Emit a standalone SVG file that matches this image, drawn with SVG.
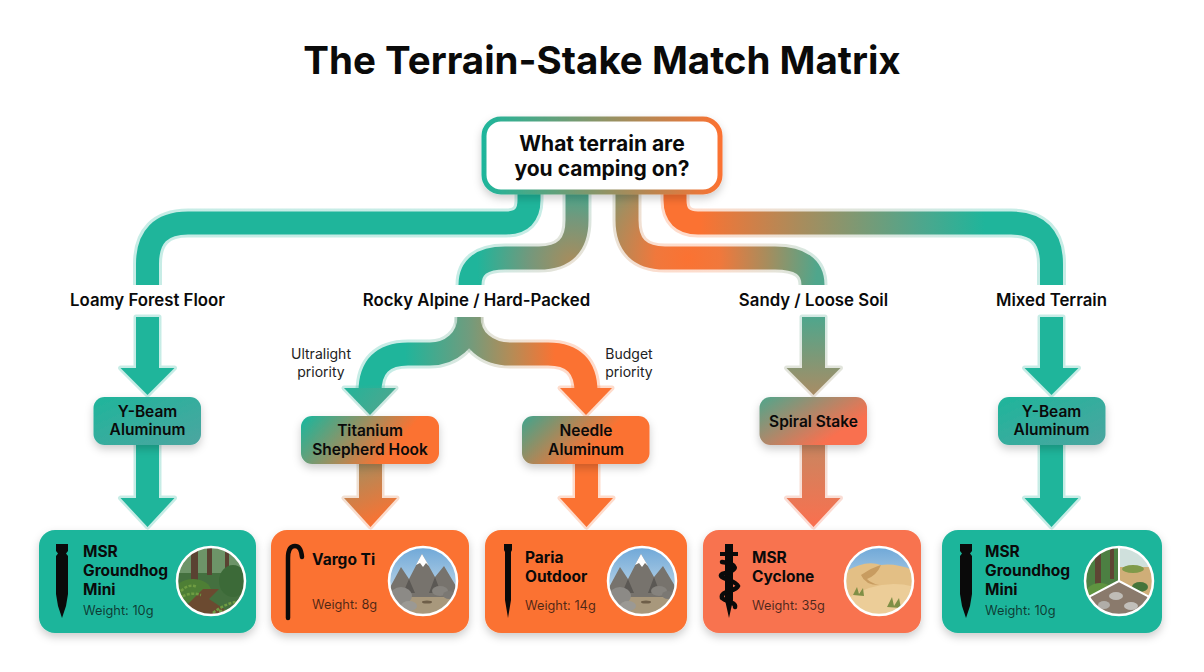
<svg xmlns="http://www.w3.org/2000/svg" width="1204" height="672" viewBox="0 0 1204 672">
<style>
text{font-family:Inter,"Liberation Sans",sans-serif;fill:#0a0a0a}
.title{font-size:38.500px;font-weight:700;text-anchor:middle}
.q{font-size:21px;font-weight:700;text-anchor:middle}
.lbl{font-size:16.800px;font-weight:600;text-anchor:middle}
.pri{font-size:14px;font-weight:400;text-anchor:middle;fill:#222}
.nd{font-size:15.500px;font-weight:600;text-anchor:middle}
.cn{font-size:15.500px;font-weight:700}
.wt{font-size:12.800px;font-weight:400;fill-opacity:.72}
.halo{fill:none;stroke-width:29;stroke-opacity:.25}
.flow{fill:none;stroke-width:23}
.arr{stroke-width:5;stroke-linejoin:round;stroke-opacity:.25;paint-order:stroke}
.ring{fill:none;stroke:#fff;stroke-width:2.500}
.ic{fill:#0a0a0a}
.fern{fill:none;stroke:#6f9c42;stroke-width:2.500;stroke-dasharray:3 1.500}
</style>
<defs>
<filter id="sh" x="-15%" y="-20%" width="130%" height="150%"><feDropShadow dx="0" dy="4" stdDeviation="4" flood-color="#000" flood-opacity=".2"/></filter>
<linearGradient id="gT" gradientUnits="userSpaceOnUse" x1="0" y1="0" x2="1" y2="0"><stop stop-color="#1fb59b"/></linearGradient>
<linearGradient id="gO" gradientUnits="userSpaceOnUse" x1="0" y1="0" x2="1" y2="0"><stop stop-color="#fb7232"/></linearGradient>
<radialGradient id="gRock" gradientUnits="userSpaceOnUse" cx="572" cy="262" r="95"><stop offset="0" stop-color="#a98c5c"/><stop offset=".45" stop-color="#74987c"/><stop offset="1" stop-color="#1fb59b"/></radialGradient>
<radialGradient id="gSand" gradientUnits="userSpaceOnUse" cx="688" cy="258" r="130"><stop offset="0" stop-color="#fb7232"/><stop offset=".25" stop-color="#f0783c"/><stop offset=".6" stop-color="#a98c5c"/><stop offset="1" stop-color="#4fa68c"/></radialGradient>
<linearGradient id="gMix" gradientUnits="userSpaceOnUse" x1="700" y1="0" x2="985" y2="0"><stop offset="0" stop-color="#fb7232"/><stop offset=".35" stop-color="#a98c5c"/><stop offset=".77" stop-color="#4fa68c"/><stop offset="1" stop-color="#1fb59b"/></linearGradient>
<linearGradient id="gSplit" gradientUnits="userSpaceOnUse" x1="405" y1="0" x2="555" y2="0"><stop offset="0" stop-color="#1fb59b"/><stop offset=".42" stop-color="#6f9c7e"/><stop offset=".72" stop-color="#b78b55"/><stop offset="1" stop-color="#fb7232"/></linearGradient>
<linearGradient id="gHeadL" gradientUnits="userSpaceOnUse" x1="345" y1="380" x2="390" y2="420"><stop offset="0" stop-color="#1fb59b"/><stop offset="1" stop-color="#55a48c"/></linearGradient>
<linearGradient id="gTiA" gradientUnits="userSpaceOnUse" x1="360" y1="464" x2="385" y2="520"><stop offset="0" stop-color="#a98c5c"/><stop offset="1" stop-color="#fb7232"/></linearGradient>
<linearGradient id="gSp1" gradientUnits="userSpaceOnUse" x1="0" y1="317" x2="0" y2="395"><stop offset="0" stop-color="#4fa68c"/><stop offset="1" stop-color="#a98c64"/></linearGradient>
<linearGradient id="gSp2" gradientUnits="userSpaceOnUse" x1="0" y1="445" x2="0" y2="525"><stop offset="0" stop-color="#c98660"/><stop offset="1" stop-color="#f9704f"/></linearGradient>
<linearGradient id="gQ" x1="0" y1="0" x2="1" y2="0"><stop offset="0" stop-color="#1fb59b"/><stop offset="1" stop-color="#fb7232"/></linearGradient>
<linearGradient id="gY" x1="0" y1="0" x2="1" y2="1"><stop offset="0" stop-color="#1fb59b"/><stop offset="1" stop-color="#4ca5a0"/></linearGradient>
<linearGradient id="gTi" x1="0" y1="0" x2="1" y2=".3"><stop offset="0" stop-color="#14b8a0"/><stop offset=".8" stop-color="#fb7232"/></linearGradient>
<linearGradient id="gNe" x1="0" y1="0" x2="1" y2=".4"><stop offset="0" stop-color="#3fa58e"/><stop offset=".7" stop-color="#fb7232"/></linearGradient>
<linearGradient id="gSpN" x1="0" y1="0" x2="1" y2=".7"><stop offset="0" stop-color="#4fa68c"/><stop offset=".85" stop-color="#f9704f"/></linearGradient>
<linearGradient id="gSky" x1="0" y1="0" x2="0" y2="1"><stop offset="0" stop-color="#6fa8d8"/><stop offset="1" stop-color="#dfe9ee"/></linearGradient>
<clipPath id="cc"><circle r="34"/></clipPath>
<g id="stake"><path d="M-6 0H6V7L4 9.500 6 12V50L4 62 0 74-4 62-6 50V12L-4 9.500-6 7Z"/></g>
<g id="mtn"><g clip-path="url(#cc)">
<rect x="-34" y="-34" width="68" height="68" fill="url(#gSky)"/>
<rect x="-34" y="8" width="68" height="26" fill="#a8987c"/>
<path d="M-36 12L-22-14-14-2-1-27 12-4 21-15 36 10V16H-36Z" fill="#77736d"/>
<path d="M-1-27L-7-16-3-18 0-14 3-18 6-15Z" fill="#fff"/>
<path d="M-14-2L-8 12H-20ZM12-4L6 12H18Z" fill="#5b5854"/>
<ellipse cx="-22" cy="15" rx="11" ry="9" fill="#8c8a86"/><ellipse cx="-14" cy="25" rx="8" ry="5" fill="#9b9994"/>
<ellipse cx="17" cy="10" rx="8" ry="5" fill="#86837e"/><ellipse cx="26" cy="14" rx="6" ry="4" fill="#7b7873"/><ellipse cx="4" cy="21" rx="5" ry="1.500" fill="#6e5e48"/>
</g><circle class="ring" r="34"/></g>
</defs>

<rect width="1204" height="672" fill="#fff"/>
<text class="title" x="602" y="74">The Terrain-Stake Match Matrix</text>

<g id="connectors">
<path class="halo" stroke="url(#gT)" d="M529 190V200Q529 223 506 223H188Q147.500 223 147.500 264V285"/>
<path class="flow" stroke="url(#gT)" d="M529 190V200Q529 223 506 223H188Q147.500 223 147.500 264V285"/>
<path class="halo" stroke="url(#gRock)" d="M577 190V220Q577 258 539 258H505Q470 258 470 285"/>
<path class="flow" stroke="url(#gRock)" d="M577 190V220Q577 258 539 258H505Q470 258 470 285"/>
<path class="halo" stroke="url(#gSand)" d="M627 190V220Q627 258 665 258H775Q813 258 813 285"/>
<path class="flow" stroke="url(#gSand)" d="M627 190V220Q627 258 665 258H775Q813 258 813 285"/>
<path class="halo" stroke="url(#gMix)" d="M675 190V200Q675 223 698 223H1011Q1051.500 223 1051.500 264V285"/>
<path class="flow" stroke="url(#gMix)" d="M675 190V200Q675 223 698 223H1011Q1051.500 223 1051.500 264V285"/>

<polygon class="arr" fill="url(#gT)" stroke="url(#gT)" points="136,317 159,317 159,368 174.500,368 147.500,395 120.500,368 136,368"/>
<polygon class="arr" fill="url(#gT)" stroke="url(#gT)" points="136,445 159,445 159,498 174.500,498 147.500,527 120.500,498 136,498"/>

<path class="halo" stroke="url(#gSplit)" d="M469 317C469 340 450 354 430 354H408Q370 354 370 392"/>
<path class="halo" stroke="url(#gSplit)" d="M469 317C469 340 488 354 510 354H548Q586 354 586 392"/>
<path class="flow" stroke="url(#gSplit)" d="M469 317C469 340 450 354 430 354H408Q370 354 370 392"/>
<path class="flow" stroke="url(#gSplit)" d="M469 317C469 340 488 354 510 354H548Q586 354 586 392"/>
<polygon class="arr" fill="url(#gHeadL)" stroke="url(#gHeadL)" points="344,388 396,388 370,415"/>
<polygon class="arr" fill="url(#gO)" stroke="url(#gO)" points="560,388 612,388 586,415"/>
<polygon class="arr" fill="url(#gTiA)" stroke="url(#gTiA)" points="359,464 382,464 382,498 397,498 370.500,527 344,498 359,498"/>
<polygon class="arr" fill="url(#gO)" stroke="url(#gO)" points="575,464 598,464 598,498 613,498 586.500,527 560,498 575,498"/>

<polygon class="arr" fill="url(#gSp1)" stroke="url(#gSp1)" points="802,317 825,317 825,368 840.500,368 813.500,395 786.500,368 802,368"/>
<polygon class="arr" fill="url(#gSp2)" stroke="url(#gSp2)" points="802,445 825,445 825,498 840.500,498 813.500,527 786.500,498 802,498"/>
<polygon class="arr" fill="url(#gT)" stroke="url(#gT)" points="1040,317 1063,317 1063,368 1078.500,368 1051.500,395 1024.500,368 1040,368"/>
<polygon class="arr" fill="url(#gT)" stroke="url(#gT)" points="1040,445 1063,445 1063,498 1078.500,498 1051.500,527 1024.500,498 1040,498"/>
</g>

<g id="edge-labels">
<text class="lbl" x="147.500" y="306">Loamy Forest Floor</text>
<text class="lbl" x="476.500" y="306">Rocky Alpine / Hard-Packed</text>
<text class="lbl" x="813.500" y="306">Sandy / Loose Soil</text>
<text class="lbl" x="1051.500" y="306">Mixed Terrain</text>
<text class="pri" x="321" y="359">Ultralight</text><text class="pri" x="321" y="377">priority</text>
<text class="pri" x="629" y="359">Budget</text><text class="pri" x="629" y="377">priority</text>
</g>

<g id="node-question"><rect x="484" y="119" width="236" height="73" rx="17" fill="#fff" stroke="url(#gQ)" stroke-width="5" filter="url(#sh)"/>
<text class="q" x="602" y="151">What terrain are</text><text class="q" x="602" y="176">you camping on?</text></g>

<g id="node-ybeam-1"><rect x="93.500" y="397" width="107.500" height="48" rx="11" fill="url(#gY)" filter="url(#sh)"/>
<text class="nd" x="147.500" y="417">Y-Beam</text><text class="nd" x="147.500" y="435">Aluminum</text></g>
<g id="node-titanium"><rect x="301" y="416" width="138" height="48" rx="11" fill="url(#gTi)" filter="url(#sh)"/>
<text class="nd" x="370" y="436">Titanium</text><text class="nd" x="370" y="455">Shepherd Hook</text></g>
<g id="node-needle"><rect x="522" y="416" width="127.500" height="48" rx="11" fill="url(#gNe)" filter="url(#sh)"/>
<text class="nd" x="586" y="436">Needle</text><text class="nd" x="586" y="455">Aluminum</text></g>
<g id="node-spiral"><rect x="759.500" y="397" width="107.500" height="48" rx="11" fill="url(#gSpN)" filter="url(#sh)"/>
<text class="nd" x="813.500" y="427">Spiral Stake</text></g>
<g id="node-ybeam-2"><rect x="998" y="397" width="107.500" height="48" rx="11" fill="url(#gY)" filter="url(#sh)"/>
<text class="nd" x="1051.500" y="417">Y-Beam</text><text class="nd" x="1051.500" y="435">Aluminum</text></g>

<g id="card-groundhog-1"><rect x="39" y="530" width="217" height="103" rx="16" fill="#1fb59b" filter="url(#sh)"/>
<use href="#stake" class="ic" x="62" y="544"/>
<text class="cn" x="83" y="557">MSR</text><text class="cn" x="83" y="576">Groundhog</text><text class="cn" x="83" y="595">Mini</text><text class="wt" x="83" y="615">Weight: 10g</text>
<g transform="translate(211 581)"><g clip-path="url(#cc)">
<rect x="-34" y="-34" width="68" height="68" fill="#44703f"/>
<rect x="-34" y="-34" width="68" height="26" fill="#6d9468"/>
<path d="M-20-34H-13V2H-20ZM-4-34H1V-6H-4ZM14-34H18V-6H14Z" fill="#5a4232"/>
<ellipse cx="-18" cy="10" rx="18" ry="12" fill="#4e7f35"/><ellipse cx="22" cy="0" rx="14" ry="16" fill="#3c6a38"/>
<path d="M-34 34L-8 8 8 8 -2 18 22 34Z" fill="#6b4a30"/>
<path class="fern" d="M2 32Q14 22 30 20M8 30Q20 30 30 30M-32 18Q-22 10-10 14M-30 10Q-22 2-14 6"/>
</g><circle class="ring" r="34"/></g></g>

<g id="card-vargo"><rect x="271" y="530" width="198" height="103" rx="16" fill="#fb7232" filter="url(#sh)"/>
<path d="M288 618V558Q288 546 295 546Q301 546 302 557" fill="none" stroke="#0a0a0a" stroke-width="4.500" stroke-linecap="round"/>
<text class="cn" x="312" y="565">Vargo Ti</text><text class="wt" x="312" y="609">Weight: 8g</text>
<use href="#mtn" x="423" y="581"/></g>

<g id="card-paria"><rect x="485" y="530" width="202" height="103" rx="16" fill="#fb7232" filter="url(#sh)"/>
<path class="ic" d="M504 544H512V550L511 552V600L508 618 505 600V552L504 550Z"/>
<text class="cn" x="525" y="563">Paria</text><text class="cn" x="525" y="582">Outdoor</text><text class="wt" x="525" y="610">Weight: 14g</text>
<use href="#mtn" x="642" y="581"/></g>

<g id="card-cyclone"><rect x="703" y="530" width="218" height="103" rx="16" fill="#f8734f" filter="url(#sh)"/>
<path class="ic" d="M725 544H733V552H738V556H733V600L729 618 725 600V556H720V552H725Z"/>
<path d="M722 562C738 564 740 570 722 574C716 578 736 580 738 586C736 592 720 590 722 598C726 602 736 602 735 607" fill="none" stroke="#0a0a0a" stroke-width="4.500" stroke-linecap="round"/>
<text class="cn" x="752" y="563">MSR</text><text class="cn" x="752" y="582">Cyclone</text><text class="wt" x="752" y="610">Weight: 35g</text>
<g transform="translate(879 581)"><g clip-path="url(#cc)">
<rect x="-34" y="-34" width="68" height="68" fill="url(#gSky)"/>
<path d="M-36-8Q-14-22 2-16Q18-18 36-10V36H-36Z" fill="#e3bf85"/>
<path d="M-18-6Q-6-14 2-16Q-2-6 -12-2Q-8 2 0 4Q-14 4-18-6Z" fill="#c89c60"/>
<path d="M-36 20Q0 -4 36 6V36H-36Z" fill="#eccd98"/>
<path d="M-26 14L-22 6-20 13-16 7-15 15ZM8 26L13 16 15 25 20 17 22 27Z" fill="#7f8f45"/>
</g><circle class="ring" r="34"/></g></g>

<g id="card-groundhog-2"><rect x="942" y="530" width="220" height="103" rx="16" fill="#1fb59b" filter="url(#sh)"/>
<use href="#stake" class="ic" x="966" y="544"/>
<text class="cn" x="985" y="557">MSR</text><text class="cn" x="985" y="576">Groundhog</text><text class="cn" x="985" y="595">Mini</text><text class="wt" x="985" y="615">Weight: 10g</text>
<g transform="translate(1119 581)"><g clip-path="url(#cc)">
<path d="M0 0V-36H-36V19Z" fill="#4c7f42"/>
<path d="M-24-34H-18V8H-24ZM-9-34H-5V-2H-9Z" fill="#5e4534"/>
<ellipse cx="-19" cy="12" rx="14" ry="10" fill="#5f9440"/>
<path d="M0 0V-36H36V19Z" fill="#cfae78"/>
<rect x="0" y="-36" width="36" height="22" fill="#cfe0dc"/>
<ellipse cx="14" cy="-12" rx="11" ry="4" fill="#7f9a4a"/><ellipse cx="21" cy="6" rx="8" ry="5" fill="#44743a"/>
<path d="M0 0L-36 19V36H36V19Z" fill="#8a7a6c"/>
<ellipse cx="-3" cy="15" rx="7" ry="4" fill="#bfbcb6"/><ellipse cx="-15" cy="24" rx="6" ry="4" fill="#b0ada8"/><ellipse cx="12" cy="25" rx="7" ry="4" fill="#c2bfba"/>
<path d="M0 0V-36M0 0L-36 19M0 0L36 19" fill="none" stroke="#fff" stroke-width="2"/>
</g><circle class="ring" r="34"/></g></g>
</svg>
